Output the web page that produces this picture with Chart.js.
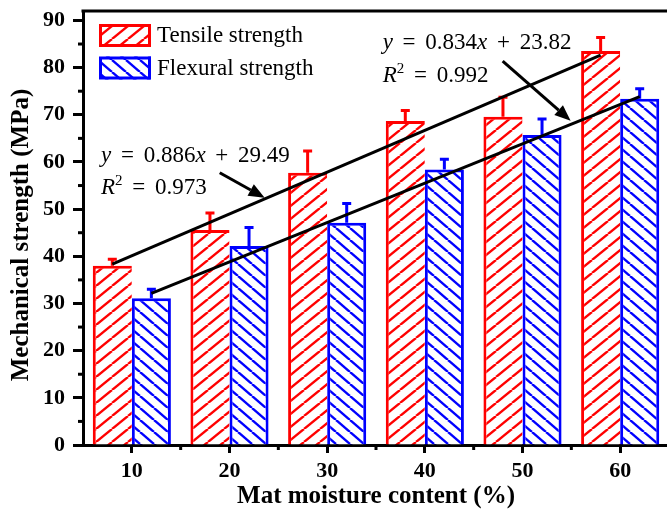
<!DOCTYPE html>
<html><head><meta charset="utf-8">
<script src="https://cdn.jsdelivr.net/npm/chart.js@4/dist/chart.umd.min.js"></script>
<style>html,body{margin:0;padding:0;overflow:hidden;background:#fff}canvas{display:block}</style>
</head><body>
<canvas id="c" width="670" height="515"></canvas>
<script>
// ---- data ----
const categories   = [10, 20, 30, 40, 50, 60];
const tensile      = [38.0, 45.6, 57.7, 68.7, 69.6, 83.5];
const tensileErr   = [1.4, 3.6, 4.6, 2.2, 4.1, 2.9];
const flexural     = [31.1, 42.2, 47.1, 58.4, 65.7, 73.4];
const flexuralErr  = [1.9, 3.9, 4.1, 2.2, 3.4, 2.1];
const tensileFit   = [38.35, 82.65];   // fit value at first / last category
const flexuralFit  = [32.16, 73.86];
const seriesNames  = ['Tensile strength', 'Flexural strength'];
const xTicks       = [10, 20, 30, 40, 50, 60];
const xMinorTicks  = [15, 25, 35, 45, 55];
const yTicks       = [0, 10, 20, 30, 40, 50, 60, 70, 80, 90];
const yMinorTicks  = [5, 15, 25, 35, 45, 55, 65, 75, 85];
const xTitle = 'Mat moisture content (%)';
const yTitle = 'Mechanical strength (MPa)';
const eqTensile  = [['y', ' = 0.886', 'x', ' + 29.49'], ['R', '2', ' = 0.973']];
const eqFlexural = [['y', ' = 0.834', 'x', ' + 23.82'], ['R', '2', ' = 0.992']];

const FONT = "'Liberation Serif','Times New Roman',serif";
const RED = '#ff0000', BLUE = '#0000ff';

const canvas = document.getElementById('c');
const ctx0 = canvas.getContext('2d');

function hatch(color, w, p, dir, lw) {
  const c = document.createElement('canvas');
  c.width = w; c.height = p;
  const g = c.getContext('2d');
  g.fillStyle = '#fff'; g.fillRect(0, 0, w, p);
  g.strokeStyle = color; g.lineWidth = lw;
  for (const dx of [-w, 0, w]) {
    g.beginPath();
    if (dir === '/') { g.moveTo(dx, p); g.lineTo(dx + w, 0); }
    else { g.moveTo(dx, 0); g.lineTo(dx + w, p); }
    g.stroke();
  }
  return ctx0.createPattern(c, 'repeat');
}
const redHatch = hatch(RED, 16, 13, '/', 2.4);
const blueHatch = hatch(BLUE, 14, 12, '\\', 2.4);

function drawParts(ctx, x, y, parts, size) {
  const extra = 4; // wider spacing around operators, as in the reference
  let cx = x;
  const isR = parts.length === 3;
  parts.forEach((t, i) => {
    let font, dy = 0;
    if (i === 0 || (!isR && i === 2)) font = `italic ${size}px ${FONT}`;
    else if (isR && i === 1) { font = `${Math.round(size * 0.64)}px ${FONT}`; dy = -size * 0.38; }
    else font = `${size}px ${FONT}`;
    ctx.font = font;
    let px = cx;
    for (const ch of t) {
      ctx.fillText(ch, px, y + dy);
      px += ctx.measureText(ch).width + (ch === ' ' ? extra : 0);
    }
    cx = px;
  });
}

function arrow(ctx, x1, y1, x2, y2) {
  const ang = Math.atan2(y2 - y1, x2 - x1);
  const L = 16, W = 6.5;
  const bx = x2 - L * Math.cos(ang), by = y2 - L * Math.sin(ang);
  ctx.beginPath(); ctx.moveTo(x1, y1); ctx.lineTo(bx, by); ctx.stroke();
  ctx.beginPath();
  ctx.moveTo(x2, y2);
  ctx.lineTo(bx + W * Math.sin(ang), by - W * Math.cos(ang));
  ctx.lineTo(bx - W * Math.sin(ang), by + W * Math.cos(ang));
  ctx.closePath(); ctx.fill();
}

const decor = {
  id: 'decor',
  afterDatasetsDraw(chart) {
    const { ctx, scales: { y } } = chart;
    ctx.save();
    // error bars (upper only)
    [[tensile, tensileErr, RED], [flexural, flexuralErr, BLUE]].forEach(([vals, errs, col], di) => {
      const meta = chart.getDatasetMeta(di);
      ctx.strokeStyle = col; ctx.lineWidth = 3;
      meta.data.forEach((el, j) => {
        const top = y.getPixelForValue(vals[j] + errs[j]);
        ctx.beginPath();
        ctx.moveTo(el.x, el.y); ctx.lineTo(el.x, top);
        ctx.moveTo(el.x - 4.5, top); ctx.lineTo(el.x + 4.5, top);
        ctx.stroke();
      });
    });
    // fit lines
    ctx.strokeStyle = '#000'; ctx.lineWidth = 3;
    [[0, tensileFit], [1, flexuralFit]].forEach(([di, f]) => {
      const d = chart.getDatasetMeta(di).data;
      ctx.beginPath();
      ctx.moveTo(d[0].x, y.getPixelForValue(f[0]));
      ctx.lineTo(d[d.length - 1].x, y.getPixelForValue(f[1]));
      ctx.stroke();
    });
    ctx.restore();
  },
  afterDraw(chart) {
    const { ctx, chartArea: a, scales: { x, y } } = chart;
    ctx.save();
    ctx.strokeStyle = '#000'; ctx.fillStyle = '#000'; ctx.lineWidth = 3;
    // top frame line
    ctx.beginPath(); ctx.moveTo(a.left - 1.5, a.top); ctx.lineTo(chart.width, a.top); ctx.stroke();
    // minor ticks
    yMinorTicks.forEach(v => {
      const py = y.getPixelForValue(v);
      ctx.beginPath(); ctx.moveTo(a.left - 5, py); ctx.lineTo(a.left, py); ctx.stroke();
    });
    xMinorTicks.forEach(v => {
      const px = x.getPixelForValue(v);
      ctx.beginPath(); ctx.moveTo(px, a.bottom); ctx.lineTo(px, a.bottom + 5); ctx.stroke();
    });
    // y axis title
    ctx.save();
    ctx.translate(22, (a.top + a.bottom) / 2 + 7);
    ctx.rotate(-Math.PI / 2);
    ctx.font = `bold 25px ${FONT}`; ctx.textAlign = 'center'; ctx.textBaseline = 'middle';
    ctx.fillText(yTitle, 0, 0);
    ctx.restore();
    // arrows
    arrow(ctx, x.getPixelForValue(19.0), y.getPixelForValue(57.7), x.getPixelForValue(23.6), y.getPixelForValue(52.4));
    arrow(ctx, x.getPixelForValue(47.97), y.getPixelForValue(81.4), x.getPixelForValue(54.93), y.getPixelForValue(68.75));
    // equations
    ctx.textBaseline = 'alphabetic'; ctx.textAlign = 'left';
    drawParts(ctx, x.getPixelForValue(6.84), y.getPixelForValue(60.0), eqTensile[0], 23);
    drawParts(ctx, x.getPixelForValue(6.84), y.getPixelForValue(53.2), eqTensile[1], 23);
    drawParts(ctx, x.getPixelForValue(35.68), y.getPixelForValue(83.95), eqFlexural[0], 23);
    drawParts(ctx, x.getPixelForValue(35.68), y.getPixelForValue(76.96), eqFlexural[1], 23);
    // legend
    const lx = a.left + 16, ly = a.top + 13;
    [[redHatch, RED], [blueHatch, BLUE]].forEach(([pat, col], i) => {
      const by = ly + i * 32.5;
      ctx.fillStyle = pat; ctx.fillRect(lx, by, 52, 23);
      ctx.strokeStyle = col; ctx.lineWidth = 3; ctx.strokeRect(lx + 1.5, by + 1.5, 49, 20);
      ctx.fillStyle = '#000'; ctx.font = `23px ${FONT}`; ctx.textBaseline = 'middle';
      ctx.fillText(seriesNames[i], lx + 58, by + 12);
    });
    ctx.restore();
  }
};

new Chart(canvas, {
  type: 'bar',
  data: {
    datasets: [
      { label: seriesNames[0], data: categories.map((c, i) => ({ x: c, y: tensile[i] })),
        backgroundColor: redHatch, borderColor: RED,
        borderWidth: { top: 3, left: 3, right: 0, bottom: 0 }, borderSkipped: false },
      { label: seriesNames[1], data: categories.map((c, i) => ({ x: c, y: flexural[i] })),
        backgroundColor: blueHatch, borderColor: BLUE,
        borderWidth: { top: 3, left: 3, right: 3, bottom: 0 }, borderSkipped: false }
    ]
  },
  options: {
    responsive: false, animation: false, devicePixelRatio: 1, events: [],
    categoryPercentage: 0.8, barPercentage: 1.0,
    layout: { padding: { top: 11, right: 1, left: 0, bottom: 0 } },
    plugins: { legend: { display: false }, tooltip: { enabled: false } },
    scales: {
      x: {
        type: 'linear', min: 5, max: 65, offset: false, z: 1,
        afterBuildTicks: s => { s.ticks = xTicks.map(v => ({ value: v })); },
        afterFit: s => { s.height = 70; s.paddingLeft = 0; s.paddingRight = 0; },
        grid: { display: true, drawOnChartArea: false, offset: false, drawTicks: true, tickLength: 8, tickWidth: 3, tickColor: '#000' },
        border: { display: true, width: 3, color: '#000' },
        ticks: { color: '#000', padding: 5, maxRotation: 0, autoSkip: false,
          font: { family: FONT, size: 22, weight: 'bold' }, callback: v => String(v) },
        title: { display: true, text: xTitle, color: '#000',
          font: { family: FONT, size: 25, weight: 'bold' }, padding: { top: 0, bottom: 3 } }
      },
      y: {
        min: 0, max: 92, z: 1,
        afterBuildTicks: s => { s.ticks = yTicks.map(v => ({ value: v })); },
        afterFit: s => { s.width = 83; s.paddingTop = 0; s.paddingBottom = 0; },
        grid: { display: true, drawOnChartArea: false, drawTicks: true, tickLength: 10, tickWidth: 3, tickColor: '#000' },
        border: { display: true, width: 3, color: '#000' },
        ticks: { color: '#000', padding: 8, font: { family: FONT, size: 22, weight: 'bold' }, callback: v => String(v) },
        title: { display: false }
      }
    }
  },
  plugins: [decor]
});
</script>
</body></html>
